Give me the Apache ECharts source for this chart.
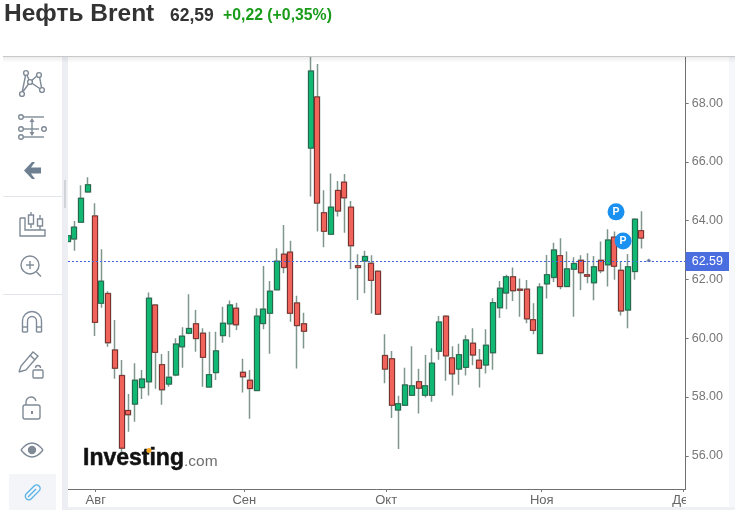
<!DOCTYPE html>
<html><head><meta charset="utf-8">
<style>html,body{margin:0;padding:0;background:#fff}#c{width:735px;height:510px}</style>
<script src="https://cdn.jsdelivr.net/npm/echarts@6/dist/echarts.min.js"></script>
</head><body><div id="c"></div>
<script>
// Session values, one array per field
const opens=[63.29,63.38,63.95,64.98,64.16,61.19,61.52,59.60,58.73,57.54,57.76,58.32,58.52,61.13,59.10,58.44,58.75,59.71,60.17,60.49,60.17,58.34,58.83,60.09,60.49,61.02,58.84,58.57,58.22,60.50,60.85,61.65,62.86,62.93,61.20,60.49,66.47,68.21,64.27,63.54,65.03,65.31,64.46,62.47,62.63,62.55,62.28,59.41,59.30,57.56,57.72,58.06,58.52,58.06,58.06,59.56,60.75,59.33,58.95,59.01,59.83,59.25,59.09,59.51,61.04,61.54,62.09,61.67,61.67,60.63,59.48,61.85,62.07,62.81,61.76,62.35,62.65,62.16,61.89,62.65,62.50,63.44,62.31,60.96,62.27,63.66];
const closes=[63.49,63.78,64.76,65.22,60.54,61.94,59.85,58.98,56.26,57.40,58.57,58.61,61.36,59.52,58.25,58.67,59.80,60.07,60.33,59.99,59.35,58.76,59.57,60.51,61.13,60.46,58.69,58.29,60.75,60.99,61.60,62.62,62.41,60.85,60.43,60.24,69.09,64.60,63.64,64.46,64.33,64.78,63.15,62.41,62.78,61.97,60.82,58.95,57.72,57.77,58.41,58.38,58.30,58.38,59.15,60.55,59.40,58.79,59.44,59.94,59.43,58.98,59.76,61.21,61.70,62.09,61.62,61.63,60.66,60.27,61.74,62.16,63.00,61.76,62.36,62.54,62.23,62.11,62.43,62.30,63.34,62.45,60.93,62.43,64.05,63.41];
const lows=[63.29,62.98,63.95,64.98,60.08,61.04,59.71,58.62,56.03,56.82,57.16,57.93,58.05,58.28,57.74,58.35,58.71,59.00,60.14,59.54,58.35,58.33,58.58,59.85,60.03,60.28,58.15,57.26,58.22,60.31,59.47,61.65,62.21,60.56,58.97,59.65,64.82,63.63,63.10,63.54,64.14,63.59,62.36,61.30,61.53,60.84,60.82,58.47,57.29,56.23,57.72,58.06,57.44,57.98,57.84,59.27,58.55,58.05,58.42,58.73,59.08,58.32,58.80,58.93,60.69,60.99,61.27,60.73,60.51,60.14,59.48,61.35,61.91,61.67,61.76,60.73,61.64,61.87,61.29,62.21,61.76,61.99,60.77,60.34,61.99,63.05];
const highs=[63.49,63.99,65.21,65.48,64.59,63.03,61.60,60.62,59.26,58.10,59.15,58.92,61.56,61.13,59.46,59.57,60.00,60.37,61.50,60.96,60.34,60.22,60.22,61.07,61.28,61.21,59.30,58.92,61.02,62.46,61.95,63.06,63.85,63.32,61.45,60.87,69.60,69.33,65.04,65.61,65.35,65.59,64.67,62.86,62.98,62.82,62.28,60.14,59.57,58.04,59.00,59.73,58.96,59.43,59.66,60.76,60.78,59.73,59.81,60.10,60.34,59.63,60.31,61.36,61.95,62.16,62.41,62.03,61.98,61.19,61.87,62.83,63.25,63.40,62.95,62.76,62.82,62.89,62.80,63.29,63.71,63.63,62.63,62.87,64.08,64.32];
const lastPrice=62.59;
const priceLineLevel=62.61;
const priceTicks=[56,58,60,62,64,66,68];
const monthTicks=[4.18,26.2,47.2,70.25,91.2];
const monthLabels=['Авг','Сен','Окт','Ноя','Дек'];
const pivotMarks=[[81.26,64.30],[82.3,63.31]];
const smallMark=[[86.1,62.66]];

const ohlc=opens.map((o,i)=>[i,o,closes[i],lows[i],highs[i]]);
const bodies=opens.map((o,i)=>[i,o,closes[i],Math.min(o,closes[i]),Math.max(o,closes[i])]);

const IC='#7f8a96';
const st={stroke:IC,fill:'none',lineWidth:1.4};
const L=(a,b,c,d,s)=>({type:'line',shape:{x1:a,y1:b,x2:c,y2:d},style:Object.assign({},st,s||{}),silent:true,z:50});
const C=(x,y,r,s,z)=>({type:'circle',shape:{cx:x,cy:y,r:r},style:Object.assign({},st,{fill:'#fff'},s||{}),silent:true,z:z||51});
const R=(x,y,w,h,f,z)=>({type:'rect',shape:{x:x,y:y,width:w,height:h},style:{fill:f},silent:true,z:z||40});
const B=(x,y,w,h,r,s)=>({type:'rect',shape:{x:x,y:y,width:w,height:h,r:r||0},style:Object.assign({},st,{fill:'#fff'},s||{}),silent:true,z:51});
const P=(pts,s)=>({type:'polyline',shape:{points:pts},style:Object.assign({},st,s||{}),silent:true,z:50});
const G=(pts,f)=>({type:'polygon',shape:{points:pts},style:{fill:f||IC},silent:true,z:50});
const A=(x,y,r,a,b)=>({type:'arc',shape:{cx:x,cy:y,r:r,startAngle:a,endAngle:b,clockwise:true},style:Object.assign({},st),silent:true,z:52});
const Q=(a,b,cx,cy,c,d)=>({type:'bezierCurve',shape:{x1:a,y1:b,cpx1:cx,cpy1:cy,x2:c,y2:d},style:Object.assign({},st),silent:true,z:50});
const T=(t,x,y,font,col,extra)=>({type:'text',x:x,y:y,style:Object.assign({text:t,font:font,fill:col},extra||{}),silent:true,z:60});
const PI=Math.PI;

const chrome=[
 R(62,57,6,453,'#eceef3'),
 R(729,57,6,453,'#f6f7fa'),
 R(68,507,667,3,'#eef0f4'),
 R(686,490,43,17,'#fff',45),
 {type:'rect',shape:{x:3,y:57,width:732,height:6},style:{fill:new echarts.graphic.LinearGradient(0,0,0,1,[{offset:0,color:'rgba(0,0,0,0.07)'},{offset:1,color:'rgba(0,0,0,0)'}])},silent:true,z:41},
 L(3,56.5,735,56.5,{stroke:'#c9c9c9',lineWidth:1}),
 L(3,196.5,62,196.5,{stroke:'#e2e5ea',lineWidth:1}),
 L(3,294.5,62,294.5,{stroke:'#e2e5ea',lineWidth:1}),
 R(64,180,2,28,'#d0d3d8',42),
 // network
 P([[22,93],[26,73],[30,82],[39,74],[42,90],[30,82],[22,93]]),
 C(26,73,2.4),C(39,75,2.4),C(30,82,2.4),C(22,94,2.4),C(42,90,2.4),
 // levels
 L(23,117,44,117),L(23,129,39,129),L(23,137,44,137),L(32,120,32,135),
 G([[32,118],[29.5,122],[34.5,122]]),G([[32,136],[29.5,132],[34.5,132]]),
 C(21,117,2.3),C(21,129,2.3),C(44,129,2.3),C(21,137,2.3),
 // back arrow
 G([[24,170.5],[32,162],[35,162],[31,167.5],[41,167.5],[41,173.5],[31,173.5],[35,179],[32,179]],'#6e7f92'),
 // candles on ruler
 P([[20,218],[25,218],[25,230],[45,230],[45,236],[20,236],[20,218]]),
 L(31,212,31,228),L(40,215,40,230),
 B(28.5,215,5,9),B(37.5,219,5,7),
 // zoom
 C(30,265,9,{fill:'none'}),L(36.5,272,41,276.5),L(26,265,34,265),L(30,261,30,269),
 // magnet
 A(32,321,9.5,PI,2*PI),A(32,321,4.5,PI,2*PI),
 L(22.5,321,22.5,332),L(27.5,321,27.5,332),L(36.5,321,36.5,332),L(41.5,321,41.5,332),
 L(22.5,332,27.5,332),L(36.5,332,41.5,332),L(22.5,327,27.5,327),L(36.5,327,41.5,327),
 // pencil with small lock
 P([[19,372],[21,366],[33,352],[38,356],[26,370],[19,372]]),L(30,355,35,360),
 B(33,370,10,8,1),A(38,368,2.5,PI,2*PI),
 // lock
 B(23,405,17,14,2),A(31,402,5,PI,2*PI-0.2),L(26,402,26,405),
 R(31,411,2,3,IC,52),
 // eye
 Q(21,450,32,436,43,450),Q(21,450,32,464,43,450),
 C(32,450,3.5,{fill:IC,stroke:IC}),
 // link
 R(9,474,47,36,'#f3f5f9',41),
 {type:'rect',shape:{x:24,y:489.5,width:18,height:7,r:3.5},style:{stroke:'#5cb3e6',fill:'none',lineWidth:1.4},rotation:PI/4,originX:32,originY:493,silent:true,z:51},
 L(28,497,36,489,{stroke:'#5cb3e6'}),
 // headline
 T('Нефть Brent',4,2,'bold 24.5px "Liberation Sans"','#333'),
 T('62,59',170,7.5,'bold 17.5px "Liberation Sans"','#333'),
 T('+0,22 (+0,35%)',223,8,'bold 15.8px "Liberation Sans"','#1a9c1a'),
 // watermark
 T('Investing',83,447,'bold 23px "Liberation Sans"','#111',{stroke:'#111',lineWidth:0.5}),
 T('.com',184,454,'15.5px "Liberation Sans"','#6e6e6e'),
 C(149,450.5,1.8,{fill:'#f5a623',stroke:'#f5a623'},61)
];

const chart=echarts.init(document.getElementById('c'),null,{renderer:'canvas'});
chart.setOption({
 animation:false,
 backgroundColor:'#fff',
 grid:{left:68,right:49.3,top:57,bottom:21,containLabel:false},
 xAxis:{type:'value',min:0.07,max:91.58,splitLine:{show:false},
  axisLine:{show:true,onZero:false,lineStyle:{color:'#707070',width:1}},
  axisTick:{show:true,length:3,lineStyle:{color:'#777'},customValues:monthTicks},
  axisLabel:{color:'#666',fontFamily:'Liberation Sans',fontSize:13,margin:5,
    customValues:monthTicks,hideOverlap:false,showMaxLabel:true,showMinLabel:true,
    formatter:v=>monthLabels[monthTicks.indexOf(v)]||''}},
 yAxis:{type:'value',position:'right',min:54.87,max:69.57,splitLine:{show:false},
  axisLine:{show:true,onZero:false,lineStyle:{color:'#707070',width:1}},
  axisTick:{show:true,length:3,lineStyle:{color:'#777'},customValues:priceTicks},
  axisLabel:{color:'#777',fontFamily:'Liberation Sans',fontSize:12.5,margin:6,
    customValues:priceTicks,formatter:v=>v.toFixed(2)}},
 series:[
  {type:'candlestick',name:'wicks',data:ohlc,encode:{x:0,y:[1,2,3,4]},barWidth:5.5,z:2,
   itemStyle:{color:'#7f968c',color0:'#7f968c',borderColor:'#7f968c',borderColor0:'#7f968c',borderWidth:1.5},
   markLine:{silent:true,symbol:'none',animation:false,
    lineStyle:{color:'#3f66e0',type:[2,2],width:1,opacity:1},
    emphasis:{disabled:true},
    label:{show:true,position:'end',distance:0,color:'#fff',backgroundColor:'#4a6de0',
      fontFamily:'Liberation Sans',fontSize:12.5,padding:[3,7,3,6],formatter:()=>lastPrice.toFixed(2)},
    data:[{yAxis:priceLineLevel,lineStyle:{color:'#3f66e0'}}]}},
  {type:'candlestick',name:'bodies',data:bodies,encode:{x:0,y:[1,2,3,4]},barWidth:5.5,z:3,
   itemStyle:{color:'#10b873',color0:'#f0635b',borderColor:'#25694d',borderColor0:'#7e2f2c',borderWidth:1}},
  {type:'scatter',name:'P',data:pivotMarks,symbol:'circle',symbolSize:17,z:5,
   itemStyle:{color:'#1a91f0',opacity:1},
   label:{show:true,position:'inside',formatter:'P',color:'#fff',fontWeight:'bold',fontSize:10.5,fontFamily:'Liberation Sans'}},
  {type:'scatter',name:'mark',data:smallMark,symbol:'triangle',symbolSize:[6,3],z:5,
   itemStyle:{color:'#6f7fa8',opacity:1}}
 ],
 graphic:chrome
});
</script></body></html>
